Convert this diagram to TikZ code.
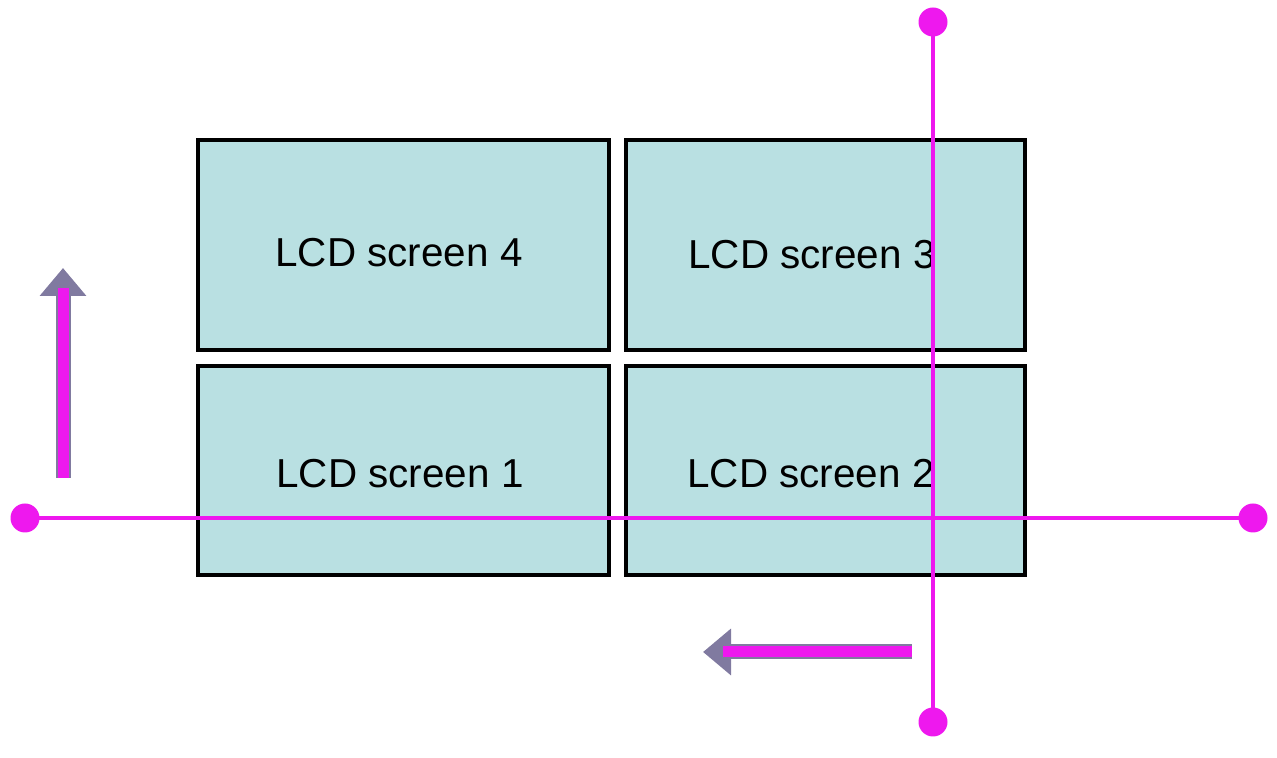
\documentclass[tikz,border=0pt]{standalone}
\usepackage{fontspec}
\setmainfont{Liberation Sans}
\usepackage{tikz}
\usetikzlibrary{arrows.meta}
\usetikzlibrary{positioning}

\definecolor{panelblue}{RGB}{185,224,226}
\definecolor{axismagenta}{RGB}{238,24,238}
\definecolor{arrowgray}{RGB}{128,122,160}

\begin{document}
\begin{tikzpicture}[
		screen/.style={draw=black, line width=2.4pt, fill=panelblue,
			minimum width=8.22cm, minimum height=4.2cm, inner sep=0pt},
		lcdtext/.style={anchor=center, font=\fontsize{23}{28}\selectfont},
		axis/.style={draw=axismagenta, line width=2.8pt},
		dot/.style={circle, fill=axismagenta, minimum size=0.58cm, inner sep=0pt},
		movehead/.style={draw=arrowgray, line width=0.3cm, -{Triangle[width=0.9cm, length=0.56cm]}, arrowgray},
		movebody/.style={draw=axismagenta, line width=0.22cm, shorten >=0.4cm}
		]
		\useasboundingbox (0,0) rectangle (25.54,15.16);
		
		% screens
		\node[screen, label={[lcdtext, xshift=-0.09cm, yshift=-0.16cm]center:LCD screen 4}] (scr4) at (8.07,10.26) {};
		\node[screen, minimum width=7.98cm, label={[lcdtext, xshift=-0.27cm, yshift=-0.2cm]center:LCD screen 3}] (scr3) at (16.51,10.26) {};
		\node[screen, minimum height=4.18cm, label={[lcdtext, xshift=-0.07cm, yshift=-0.07cm]center:LCD screen 1}] (scr1) at (8.07,5.75) {};
		\node[screen, minimum width=7.98cm, minimum height=4.18cm, label={[lcdtext, xshift=-0.29cm, yshift=-0.07cm]center:LCD screen 2}] (scr2) at (16.51,5.75) {};
		
		% axes
		\node[dot] (hleft) at (0.50,4.80) {};
		\node[dot] (hright) at (25.06,4.80) {};
		\node[dot] (vtop) at (18.66,14.72) {};
		\node[dot] (vbot) at (18.66,0.72) {};
		\draw[axis] (hleft.center) -- (hright.center);
		\draw[axis] (vtop.center) -- (vbot.center);
		
		% scan directions
		\coordinate (up0) at (1.26,5.60);
		\coordinate (up1) at (1.26,9.80);
		\coordinate (lf0) at (18.24,2.12);
		\coordinate (lf1) at (14.06,2.12);
		\draw[movehead] (up0) -- (up1);
		\draw[movebody] (up0) -- (up1);
		\draw[movehead] (lf0) -- (lf1);
		\draw[movebody] (lf0) -- (lf1);
	\end{tikzpicture}
\end{document}
